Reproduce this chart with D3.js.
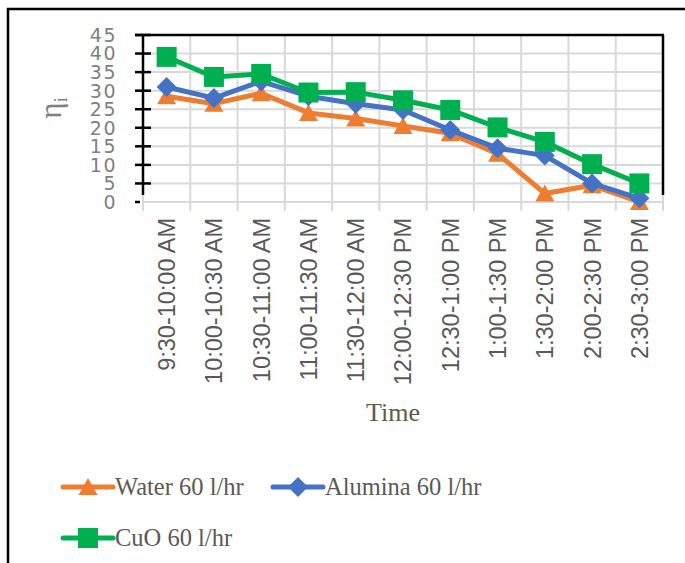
<!DOCTYPE html>
<html><head><meta charset="utf-8">
<script src="https://cdn.jsdelivr.net/npm/d3@7"></script>
<style>html,body{margin:0;padding:0;background:#fff;}svg{display:block;}</style>
</head><body>
<script>
const categories = ["9:30-10:00 AM","10:00-10:30 AM","10:30-11:00 AM","11:00-11:30 AM","11:30-12:00 AM","12:00-12:30 PM","12:30-1:00 PM","1:00-1:30 PM","1:30-2:00 PM","2:00-2:30 PM","2:30-3:00 PM"];
const water   = [28.5, 26.5, 29.3, 24, 22.5, 20.5, 18.5, 13, 2.3, 4.5, 0];
const alumina = [31, 28, 32.5, 28.5, 26.5, 24.8, 19.4, 14.5, 12.5, 5, 1];
const cuo     = [39.1, 33.7, 34.5, 29.5, 29.6, 27.4, 24.8, 20.1, 16.2, 10.2, 5];
const yTicks  = [0,5,10,15,20,25,30,35,40,45];
const seriesNames = ["Water 60 l/hr","Alumina 60 l/hr","CuO 60 l/hr"];

(function(){
const W = 685, H = 563;
const svg = d3.select("body").append("svg").attr("width", W).attr("height", H);

// outer border
svg.append("path").attr("d", `M8,${H} L8,9 L${W},9`).attr("fill","none").attr("stroke","#000").attr("stroke-width",2.5);

const pL = 143, pR = 663, pT = 35, pB = 202;
const x = d3.scaleBand().domain(categories).range([pL, pR]).paddingInner(0).paddingOuter(0);
const y = d3.scaleLinear().domain([0,45]).range([pB, pT]);

const g = svg.append("g");
// horizontal gridlines
g.selectAll(".hg").data(yTicks.filter(d => d>0 && d<45)).enter().append("line")
  .attr("x1", pL).attr("x2", pR).attr("y1", d=>y(d)).attr("y2", d=>y(d))
  .attr("stroke","#d9d9d9").attr("stroke-width",2);
// vertical gridlines (category boundaries), extend below as ticks
const bounds = categories.map(c => x(c)).concat([pR]);
g.selectAll(".vg").data(bounds).enter().append("line")
  .attr("x1", d=>d).attr("x2", d=>d).attr("y1", pT).attr("y2", pB+9)
  .attr("stroke","#d9d9d9").attr("stroke-width",2);
// bottom axis line
g.append("line").attr("x1",pL).attr("x2",pR).attr("y1",pB).attr("y2",pB)
  .attr("stroke","#d9d9d9").attr("stroke-width",2);

// black frame: top, right, left axis
g.append("line").attr("x1",135).attr("x2",pR+1).attr("y1",pT).attr("y2",pT).attr("stroke","#000").attr("stroke-width",2.5);
g.append("line").attr("x1",pR).attr("x2",pR).attr("y1",pT).attr("y2",195).attr("stroke","#000").attr("stroke-width",2.5);
g.append("line").attr("x1",pL).attr("x2",pL).attr("y1",pT).attr("y2",195).attr("stroke","#000").attr("stroke-width",2.5);
g.selectAll(".yt").data(yTicks.filter(d=>d>0)).enter().append("line")
  .attr("x1",135).attr("x2",151).attr("y1",d=>y(d)).attr("y2",d=>y(d)).attr("stroke","#000").attr("stroke-width",2.5);
g.append("line").attr("x1",135).attr("x2",140).attr("y1",y(0)).attr("y2",y(0)).attr("stroke","#000").attr("stroke-width",2.5);

// y tick labels
g.selectAll(".yl").data(yTicks).enter().append("text")
  .attr("x",117).attr("y",d=>y(d)).attr("dy","0.36em").attr("text-anchor","end")
  .attr("font-family","DejaVu Sans").attr("font-size",19).attr("letter-spacing",1.5).attr("fill","#7f7f7f")
  .text(d=>d);

// y title
const yt = svg.append("text").attr("transform","translate(61,108) rotate(-90)")
  .attr("text-anchor","middle").attr("font-family","Liberation Serif").attr("font-size",31).attr("fill","#7f7f7f");
yt.append("tspan").text("η");
yt.append("tspan").attr("font-size",19).attr("dy",6).text("i");

// x labels
g.selectAll(".xl").data(categories).enter().append("text")
  .attr("transform", d=>`translate(${x(d)+x.bandwidth()/2},218) rotate(-90)`)
  .attr("text-anchor","end").attr("dy","0.36em")
  .attr("font-family","Liberation Sans").attr("font-size",23.5).attr("fill","#595959")
  .text(d=>d);

// x title
svg.append("text").attr("x",393).attr("y",421).attr("text-anchor","middle")
  .attr("font-family","Liberation Serif").attr("font-size",26).attr("fill","#595959").text("Time");

const colors = ["#ED7D31","#4472C4","#00B050"];
const shapes = ["tri","dia","sq"];
function marker(sel, shape, color){
  if(shape==="sq") sel.append("rect").attr("x",-10).attr("y",-10).attr("width",20).attr("height",20).attr("fill",color);
  else if(shape==="dia") sel.append("path").attr("d","M0,-10 L10,0 L0,10 L-10,0Z").attr("fill",color);
  else sel.append("path").attr("d","M0,-9 L9.5,8 L-9.5,8Z").attr("fill",color);
}
const line = d3.line().x((d,i)=>x(categories[i])+x.bandwidth()/2).y(d=>y(d));
[water, alumina, cuo].forEach((vals, s) => {
  g.append("path").datum(vals).attr("d",line).attr("fill","none").attr("stroke",colors[s])
    .attr("stroke-width",5).attr("stroke-linejoin","round").attr("stroke-linecap","round");
  vals.forEach((v,i) => {
    const m = g.append("g").attr("transform",`translate(${x(categories[i])+x.bandwidth()/2},${y(v)})`);
    marker(m, shapes[s], colors[s]);
  });
});

// legend
const legPos = [[63,487],[273,487],[63,538]];
seriesNames.forEach((name,s) => {
  const [lx,ly] = legPos[s];
  const lg = svg.append("g");
  lg.append("line").attr("x1",lx).attr("x2",lx+50).attr("y1",ly).attr("y2",ly)
    .attr("stroke",colors[s]).attr("stroke-width",5).attr("stroke-linecap","round");
  const m = lg.append("g").attr("transform",`translate(${lx+25},${ly})`);
  marker(m, shapes[s], colors[s]);
  lg.append("text").attr("x",lx+52).attr("y",ly+8).attr("font-family","Liberation Serif")
    .attr("font-size",24.5).attr("fill","#595959").text(name);
});
})();
</script>
</body></html>
